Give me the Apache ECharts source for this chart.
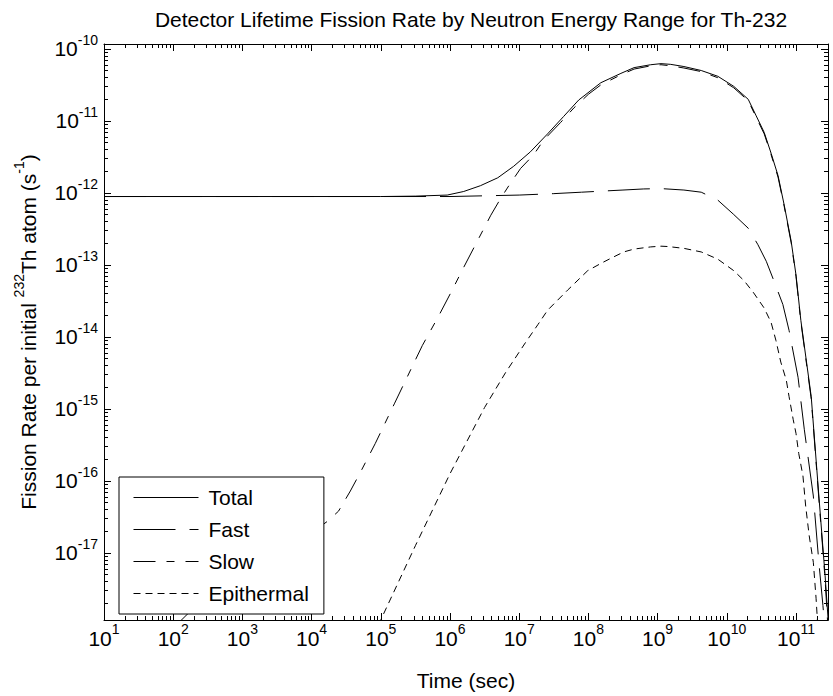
<!DOCTYPE html>
<html>
<head>
<meta charset="utf-8">
<script src="https://cdn.jsdelivr.net/npm/echarts@6/dist/echarts.min.js"></script>
<style>
html,body{margin:0;padding:0;background:#fff;}
#c{width:833px;height:696px;}
</style>
</head>
<body>
<div id="c"></div>
<script>
// ---- data (time in s, rate per initial Th-232 atom in 1/s) ----
const totalTime = [1e1, 1e5, 3.16e5, 9.12e5, 1.58e6, 2.75e6, 4.90e6, 8.32e6, 1.45e7, 2.57e7, 4.37e7, 7.24e7, 1.51e8, 2.95e8, 4.57e8, 7.94e8, 1.12e9, 1.55e9, 2.40e9, 4.27e9, 7.41e9, 1.26e10, 2.04e10, 2.63e10, 3.47e10, 4.37e10, 5.50e10, 6.76e10, 8.51e10, 1.00e11, 1.175e11, 1.66e11, 2.14e11, 2.63e11, 2.95e11];
const totalRate = [8.91e-13, 8.91e-13, 9.02e-13, 9.33e-13, 1.047e-12, 1.259e-12, 1.622e-12, 2.344e-12, 3.715e-12, 6.607e-12, 1.148e-11, 1.950e-11, 3.388e-11, 4.571e-11, 5.495e-11, 6.026e-11, 6.24e-11, 6.10e-11, 5.69e-11, 5.012e-11, 4.169e-11, 3.020e-11, 1.995e-11, 1.202e-11, 6.918e-12, 3.548e-12, 1.738e-12, 6.761e-13, 2.138e-13, 7.244e-14, 1.698e-14, 1.479e-15, 6.166e-17, 4.898e-18, 1.0e-18];

const fastTime = [1e1, 1e6, 3.16e6, 1e7, 3.16e7, 7.94e7, 1.585e8, 3.16e8, 6.31e8, 1.12e9, 2.40e9, 4.27e9, 7.41e9, 1.26e10, 2.04e10, 2.82e10, 3.72e10, 4.79e10, 6.46e10, 7.94e10, 1.07e11, 1.32e11, 1.78e11, 2.14e11, 2.45e11, 2.63e11];
const fastRate = [8.91e-13, 8.91e-13, 9.12e-13, 9.33e-13, 9.77e-13, 1.023e-12, 1.06e-12, 1.096e-12, 1.135e-12, 1.148e-12, 1.096e-12, 1.023e-12, 7.943e-13, 5.012e-13, 3.236e-13, 1.905e-13, 1.122e-13, 6.026e-14, 2.818e-14, 1.230e-14, 2.754e-15, 5.129e-16, 6.166e-17, 7.413e-18, 1.862e-18, 7.94e-19];

const slowTime = [1.26e2, 1.95e2, 3.98e2, 1e3, 3.16e3, 1e4, 1.70e4, 2.45e4, 3.63e4, 5.01e4, 8.32e4, 1.585e5, 3.98e5, 6.76e5, 1.023e6, 1.585e6, 2.51e6, 3.89e6, 5.37e6, 7.08e6, 1.047e7, 1.62e7, 2.24e7, 3.98e7, 6.17e7, 1e8, 1.51e8, 2.95e8, 4.57e8, 7.94e8, 1.12e9, 1.55e9, 2.40e9, 4.27e9, 7.41e9, 1.26e10, 2.04e10, 2.63e10, 3.47e10, 4.37e10, 5.50e10, 6.76e10, 8.51e10, 1e11, 1.175e11, 1.66e11, 2.14e11, 2.63e11, 2.88e11];
const slowRate = [1.122e-18, 1.698e-18, 2.818e-18, 5.012e-18, 1.047e-17, 1.905e-17, 2.754e-17, 3.802e-17, 7.244e-17, 1.288e-16, 3.311e-16, 1.202e-15, 7.586e-15, 1.905e-14, 4.074e-14, 9.333e-14, 2.188e-13, 4.898e-13, 8.318e-13, 1.259e-12, 2.188e-12, 3.388e-12, 5.37e-12, 9.55e-12, 1.514e-11, 2.344e-11, 3.162e-11, 4.365e-11, 5.248e-11, 5.82e-11, 6.026e-11, 5.82e-11, 5.43e-11, 4.84e-11, 3.981e-11, 2.884e-11, 1.905e-11, 1.148e-11, 6.607e-12, 3.388e-12, 1.660e-12, 6.457e-13, 2.042e-13, 6.918e-14, 1.622e-14, 1.380e-15, 5.623e-17, 4.365e-18, 1.0e-18];

const epiTime = [9.33e4, 1e5, 3.16e5, 1e6, 3.16e6, 6.31e6, 1.23e7, 1.86e7, 2.57e7, 5.01e7, 9.77e7, 1.51e8, 2.09e8, 3.24e8, 4.57e8, 7.94e8, 1.12e9, 1.41e9, 2.40e9, 4.27e9, 7.41e9, 1.26e10, 1.78e10, 2.45e10, 3.47e10, 4.37e10, 5.13e10, 6.03e10, 7.24e10, 7.94e10, 9.12e10, 1e11, 1.096e11, 1.26e11, 1.38e11, 1.55e11, 1.78e11, 1.95e11, 2.09e11];
const epiRate = [1e-18, 1.175e-18, 1.259e-17, 1.259e-16, 1.047e-15, 3.162e-15, 8.318e-15, 1.479e-14, 2.344e-14, 4.467e-14, 8.318e-14, 1.047e-13, 1.230e-13, 1.514e-13, 1.660e-13, 1.778e-13, 1.820e-13, 1.80e-13, 1.698e-13, 1.514e-13, 1.202e-13, 8.318e-14, 6.026e-14, 4.074e-14, 2.512e-14, 1.585e-14, 8.913e-15, 4.467e-15, 2.512e-15, 1.479e-15, 7.079e-16, 4.571e-16, 2.399e-16, 1.175e-16, 4.467e-17, 1.738e-17, 7.413e-18, 2.344e-18, 7.94e-19];

const seriesNames = ['Total', 'Fast', 'Slow', 'Epithermal'];

// ---- ticks ----
const xMajorTicks = [1e1, 1e2, 1e3, 1e4, 1e5, 1e6, 1e7, 1e8, 1e9, 1e10, 1e11];
const xTickExponents = ['1', '2', '3', '4', '5', '6', '7', '8', '9', '10', '11'];
const yMajorTicks = [1e-17, 1e-16, 1e-15, 1e-14, 1e-13, 1e-12, 1e-11, 1e-10];
const yTickExponents = ['-17', '-16', '-15', '-14', '-13', '-12', '-11', '-10'];

const X_MIN = 10, X_MAX = 2.9e11;
const Y_MIN = 1.17e-18, Y_MAX = 1.17e-10;

function minorTicks(majors, lo, hi) {
  const out = [];
  const decades = [majors[0] / 10].concat(majors);
  decades.forEach(function (d) {
    for (let m = 2; m <= 9; m++) {
      const v = m * d;
      if (v > lo && v < hi) out.push(v);
    }
  });
  return out;
}
const xMinorTicks = minorTicks(xMajorTicks, X_MIN, X_MAX);
const yMinorTicks = minorTicks(yMajorTicks, Y_MIN, Y_MAX);

function nearestIndex(arr, v) {
  let best = 0, bd = Infinity;
  arr.forEach(function (a, i) {
    const d = Math.abs(Math.log10(a) - Math.log10(v));
    if (d < bd) { bd = d; best = i; }
  });
  return best;
}

const FONT = "'Liberation Sans', Arial, Helvetica, sans-serif";
const supRich = {
  b: { fontSize: 21, fontFamily: FONT, color: '#000', lineHeight: 32 },
  s: { fontSize: 14, fontFamily: FONT, color: '#000', verticalAlign: 'top', lineHeight: 16 }
};

function pairs(t, v) { return t.map(function (x, i) { return [x, v[i]]; }); }

const lineCommon = { color: '#000', width: 1 };

function xAxisDef(pos, major) {
  return {
    type: 'log', logBase: 10, min: X_MIN, max: X_MAX, position: pos,
    splitLine: { show: false },
    axisLine: { show: major, onZero: false, lineStyle: { color: '#000', width: 1 } },
    axisTick: { show: true, inside: true, length: major ? 7 : 4,
                customValues: major ? xMajorTicks : xMinorTicks,
                lineStyle: { color: '#000', width: 1 } },
    axisLabel: { show: false }
  };
}
function yAxisDef(pos, major) {
  return {
    type: 'log', logBase: 10, min: Y_MIN, max: Y_MAX, position: pos,
    splitLine: { show: false },
    axisLine: { show: major, onZero: false, lineStyle: { color: '#000', width: 1 } },
    axisTick: { show: true, inside: true, length: major ? 7 : 4,
                customValues: major ? yMajorTicks : yMinorTicks,
                lineStyle: { color: '#000', width: 1 } },
    axisLabel: { show: false }
  };
}

const xMain = xAxisDef('bottom', true);
xMain.axisLabel = {
  show: true, customValues: xMajorTicks, margin: 2,
  formatter: function (v) { return '{b|10}{s|' + xTickExponents[nearestIndex(xMajorTicks, v)] + '}'; },
  rich: supRich
};
xMain.name = 'Time (sec)';
xMain.nameLocation = 'middle';
xMain.nameGap = 50;
xMain.nameTextStyle = { fontSize: 21, fontFamily: FONT, color: '#000' };

const yMain = yAxisDef('left', true);
yMain.axisLabel = {
  show: true, customValues: yMajorTicks, margin: 6,
  formatter: function (v) { return '{b|10}{s|' + yTickExponents[nearestIndex(yMajorTicks, v)] + '}'; },
  rich: supRich
};
yMain.name = '{n|Fission Rate per initial }{s|232}{n|Th atom (s}{s|-1}{n|)}';
yMain.nameLocation = 'middle';
yMain.nameGap = 60;
yMain.nameTextStyle = {
  fontSize: 21, fontFamily: FONT, color: '#000',
  rich: {
    n: { fontSize: 21, fontFamily: FONT, color: '#000', lineHeight: 32 },
    s: { fontSize: 14, fontFamily: FONT, color: '#000', verticalAlign: 'top', lineHeight: 16 }
  }
};

const chart = echarts.init(document.getElementById('c'), null, { renderer: 'svg', width: 833, height: 696 });

chart.setOption({
  animation: false,
  backgroundColor: '#fff',
  title: {
    text: 'Detector Lifetime Fission Rate by Neutron Energy Range for Th-232',
    left: 466, top: 4, textAlign: 'center',
    textStyle: { fontSize: 21, fontWeight: 'normal', fontFamily: FONT, color: '#000' }
  },
  grid: { left: 104, right: 5, top: 44, bottom: 71, show: false },
  xAxis: [xMain, xAxisDef('bottom', false), xAxisDef('top', true), xAxisDef('top', false)],
  yAxis: [yMain, yAxisDef('left', false), yAxisDef('right', true), yAxisDef('right', false)],
  legend: {
    orient: 'vertical', left: 119, top: 477,
    data: seriesNames,
    itemWidth: 65, itemHeight: 20, itemGap: 11,
    padding: [10, 15, 10, 14],
    backgroundColor: '#fff', borderColor: '#000', borderWidth: 1, borderRadius: 0,
    selectedMode: false,
    itemStyle: { opacity: 0, borderWidth: 0 },
    lineStyle: { width: 1, color: '#000' },
    textStyle: { fontSize: 21, fontFamily: FONT, color: '#000', padding: [0, 0, 0, 5] }
  },
  series: [
    { name: seriesNames[0], type: 'line', data: pairs(totalTime, totalRate), symbol: 'none', z: 4,
      lineStyle: Object.assign({}, lineCommon, { type: 'solid' }), itemStyle: { color: '#000' } },
    { name: seriesNames[1], type: 'line', data: pairs(fastTime, fastRate), symbol: 'none', z: 3,
      lineStyle: Object.assign({}, lineCommon, { type: [42, 14] }), itemStyle: { color: '#000' } },
    { name: seriesNames[2], type: 'line', data: pairs(slowTime, slowRate), symbol: 'none', z: 3,
      lineStyle: Object.assign({}, lineCommon, { type: [22, 11, 8, 11] }), itemStyle: { color: '#000' } },
    { name: seriesNames[3], type: 'line', data: pairs(epiTime, epiRate), symbol: 'none', z: 3,
      lineStyle: Object.assign({}, lineCommon, { type: [7, 5] }), itemStyle: { color: '#000' } }
  ]
});
</script>
</body>
</html>
